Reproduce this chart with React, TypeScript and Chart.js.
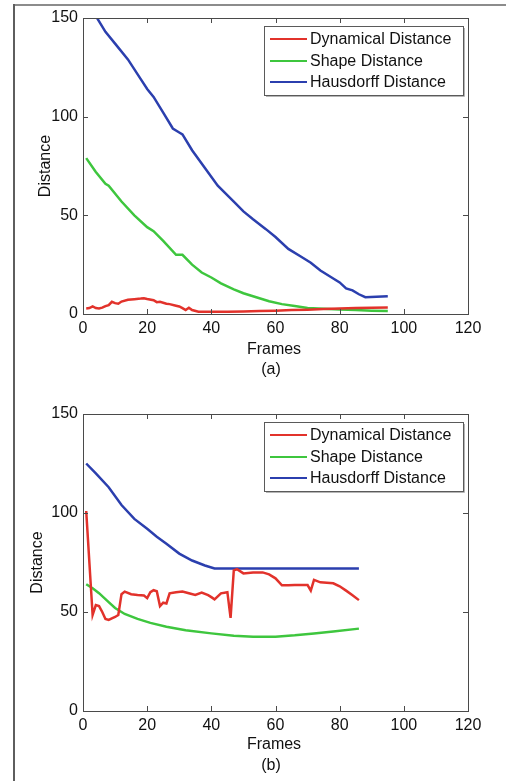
import React, { useEffect, useRef } from "react";
import { Chart, registerables } from "chart.js";

Chart.register(...registerables);

const FONT = "'Liberation Sans', Arial, Helvetica, sans-serif";

const seriesLabels = ["Dynamical Distance", "Shape Distance", "Hausdorff Distance"];
const seriesColors = ["#e2322b", "#3ec63e", "#2b3fae"];
const xTickValues = [0, 20, 40, 60, 80, 100, 120];
const yTickValues = [0, 50, 100, 150];
const xTitle = "Frames";
const yTitle = "Distance";

// ---------- panel (a) ----------
const aDynFrames = [1, 2, 3, 4, 5, 6, 7, 8, 9, 10, 11, 12, 14, 16, 18, 19, 20, 22, 23, 24, 26, 27, 29, 30, 31, 32, 33, 34, 36, 40, 45, 50, 55, 60, 65, 70, 75, 80, 85, 90, 95];
const aDyn = [2.8, 3, 3.8, 3, 2.8, 3.2, 4, 4.5, 6.2, 5.5, 5.2, 6.3, 7.2, 7.5, 7.8, 8, 7.6, 7, 6, 6.2, 5.2, 5, 4.2, 3.8, 3, 2, 3.2, 2, 1.2, 1.2, 1.1, 1.3, 1.5, 1.7, 2, 2.2, 2.5, 2.8, 3.1, 3.2, 3.3];
const aShapeFrames = [1, 4, 7, 8, 12, 16, 20, 22, 25, 29, 31, 34, 37, 40, 43, 47, 50, 54, 58, 62, 66, 70, 75, 80, 85, 90, 95];
const aShape = [79, 72, 66, 65, 57, 50, 44, 42, 37, 30, 30, 25, 21, 18.5, 15.5, 12.5, 10.5, 8.5, 6.5, 5, 4, 3, 2.6, 2.3, 2, 1.7, 1.5];
const aHausFrames = [1, 4, 7, 10, 14, 18, 20, 22, 25, 28, 30, 31, 34, 38, 42, 47, 50, 53, 57, 60, 64, 68, 71, 74, 78, 80, 82, 84, 86, 88, 95];
const aHaus = [157, 151, 143, 137, 129, 119, 114, 110, 102, 94, 92, 91, 83, 74, 65, 57, 52, 48, 43, 39, 33, 29, 26, 22, 18, 16, 13, 12, 10, 8.5, 9];

// ---------- panel (b) ----------
const bDynFrames = [1, 3, 4, 5, 6, 7, 8, 9, 10, 11, 12, 13, 15, 17, 19, 20, 21, 22, 23, 24, 25, 26, 27, 29, 31, 33, 35, 37, 39, 40, 41, 43, 45, 46, 47, 48, 50, 53, 56, 58, 60, 62, 64, 66, 68, 70, 71, 72, 74, 76, 78, 80, 82, 84, 86];
const bDyn = [101, 48.5, 53.5, 53, 50, 46.5, 46, 46.8, 47.5, 48.5, 59, 60.3, 59, 58.6, 58.3, 57, 60, 61, 60.5, 53, 54.7, 54.3, 59.4, 60, 60.3, 59.5, 58.6, 59.8, 58.5, 57.5, 56.4, 59.4, 60, 47, 71, 71.6, 69.5, 70, 70, 69, 67, 63.5, 63.5, 63.6, 63.6, 63.6, 60.8, 66.2, 65, 64.8, 64.5, 63, 60.8, 58.5, 56];
const bShapeFrames = [1, 3, 5, 8, 10, 13, 17, 21, 26, 32, 40, 47, 53, 60, 66, 72, 78, 86];
const bShape = [64, 62, 59.5, 55, 52, 49, 46.5, 44.5, 42.6, 40.8, 39.2, 38, 37.5, 37.5, 38.2, 39.2, 40.2, 41.6];
const bHausFrames = [1, 4, 8, 12, 16, 20, 23, 26, 30, 34, 38, 41, 86];
const bHaus = [125, 120, 113, 104, 97, 92, 88, 84.5, 79.5, 76, 73.5, 72, 72];

const zip = (xs: number[], ys: number[]) => xs.map((x, i) => ({ x, y: ys[i] }));

type PanelSpec = {
  top: number;
  height: number;
  plotTop: number;
  plotBottom: number;
  yTitleX: number;
  xTitleY: number;
  subY: number;
  sub: string;
  series: { x: number[]; y: number[] }[];
};

const panels: PanelSpec[] = [
  {
    top: 0,
    height: 390,
    plotTop: 18,
    plotBottom: 314,
    yTitleX: 50,
    xTitleY: 354,
    subY: 374,
    sub: "(a)",
    series: [
      { x: aDynFrames, y: aDyn },
      { x: aShapeFrames, y: aShape },
      { x: aHausFrames, y: aHaus },
    ],
  },
  {
    top: 390,
    height: 391,
    plotTop: 24,
    plotBottom: 321,
    yTitleX: 42,
    xTitleY: 359,
    subY: 380,
    sub: "(b)",
    series: [
      { x: bDynFrames, y: bDyn },
      { x: bShapeFrames, y: bShape },
      { x: bHausFrames, y: bHaus },
    ],
  },
];

const PLOT_LEFT = 83;
const PLOT_RIGHT = 468;
const WIDTH = 506;

function makeDecorPlugin(spec: PanelSpec) {
  return {
    id: "matlabDecor",
    afterDraw(chart: any) {
      const { ctx, chartArea } = chart;
      const { left, right, top, bottom } = chartArea;
      ctx.save();
      // axes box
      ctx.strokeStyle = "#4a4a4a";
      ctx.lineWidth = 1;
      ctx.strokeRect(Math.round(left) + 0.5, Math.round(top) + 0.5, Math.round(right - left), Math.round(bottom - top));
      // inward ticks
      const xs = chart.scales.x;
      const ys = chart.scales.y;
      ctx.beginPath();
      xs.ticks.forEach((t: any) => {
        const px = Math.round(xs.getPixelForValue(t.value)) + 0.5;
        ctx.moveTo(px, bottom);
        ctx.lineTo(px, bottom - 5);
        ctx.moveTo(px, top);
        ctx.lineTo(px, top + 5);
      });
      ys.ticks.forEach((t: any) => {
        const py = Math.round(ys.getPixelForValue(t.value)) + 0.5;
        ctx.moveTo(left, py);
        ctx.lineTo(left + 5, py);
        ctx.moveTo(right, py);
        ctx.lineTo(right - 5, py);
      });
      ctx.stroke();

      // legend box
      const bx = right - 204;
      const by = top + 8;
      const bw = 199;
      const bh = 69;
      ctx.fillStyle = "#ffffff";
      ctx.fillRect(bx, by, bw, bh);
      ctx.strokeStyle = "#b5b5b5";
      ctx.lineWidth = 1;
      ctx.beginPath();
      ctx.moveTo(bx + bw + 1.5, by + 2);
      ctx.lineTo(bx + bw + 1.5, by + bh + 1.5);
      ctx.lineTo(bx + 2, by + bh + 1.5);
      ctx.stroke();
      ctx.strokeStyle = "#5a5a5a";
      ctx.strokeRect(Math.round(bx) + 0.5, Math.round(by) + 0.5, bw, bh);
      const rows = [21, 43, 64];
      ctx.font = `16px ${FONT}`;
      ctx.textBaseline = "middle";
      ctx.textAlign = "left";
      chart.data.datasets.forEach((ds: any, i: number) => {
        const ry = top + rows[i];
        ctx.strokeStyle = ds.borderColor;
        ctx.lineWidth = 2;
        ctx.beginPath();
        ctx.moveTo(bx + 6, ry);
        ctx.lineTo(bx + 43, ry);
        ctx.stroke();
        ctx.fillStyle = "#111";
        ctx.fillText(ds.label, bx + 46, ry + 0.5);
      });

      // titles
      ctx.fillStyle = "#111";
      ctx.font = `16px ${FONT}`;
      ctx.textBaseline = "alphabetic";
      ctx.textAlign = "center";
      ctx.fillText(xTitle, 274, spec.xTitleY);
      ctx.fillText(spec.sub, 271, spec.subY);
      ctx.save();
      ctx.translate(spec.yTitleX, (top + bottom) / 2);
      ctx.rotate(-Math.PI / 2);
      ctx.fillText(yTitle, 0, 0);
      ctx.restore();
      ctx.restore();
    },
  };
}

function Panel({ spec }: { spec: PanelSpec }) {
  const ref = useRef<HTMLCanvasElement | null>(null);
  useEffect(() => {
    if (!ref.current) return;
    const chart = new Chart(ref.current, {
      type: "line",
      data: {
        datasets: spec.series.map((s, i) => ({
          label: seriesLabels[i],
          data: zip(s.x, s.y),
          borderColor: seriesColors[i],
          backgroundColor: seriesColors[i],
          borderWidth: 2.5,
          pointRadius: 0,
          tension: 0,
          fill: false,
        })),
      },
      options: {
        animation: false,
        responsive: false,
        maintainAspectRatio: false,
        events: [],
        layout: {
          padding: { left: 0, right: WIDTH - PLOT_RIGHT, top: spec.plotTop, bottom: 0 },
        },
        plugins: {
          legend: { display: false },
          tooltip: { enabled: false },
          title: { display: false },
        },
        scales: {
          x: {
            type: "linear",
            min: 0,
            max: 120,
            afterBuildTicks: (scale: any) => {
              scale.ticks = xTickValues.map((v) => ({ value: v }));
            },
            afterFit: (scale: any) => {
              scale.height = spec.height - spec.plotBottom;
            },
            grid: { display: false, drawTicks: false },
            border: { display: false },
            ticks: {
              padding: 5,
              color: "#111",
              font: { family: FONT, size: 16 },
              maxRotation: 0,
              autoSkip: false,
            },
          },
          y: {
            type: "linear",
            min: 0,
            max: 150,
            afterBuildTicks: (scale: any) => {
              scale.ticks = yTickValues.map((v) => ({ value: v }));
            },
            afterFit: (scale: any) => {
              scale.width = PLOT_LEFT;
            },
            grid: { display: false, drawTicks: false },
            border: { display: false },
            ticks: {
              padding: 5,
              color: "#111",
              font: { family: FONT, size: 16 },
              autoSkip: false,
            },
          },
        },
      } as any,
      plugins: [makeDecorPlugin(spec)],
    });
    return () => chart.destroy();
  }, [spec]);
  return (
    <canvas
      ref={ref}
      width={WIDTH}
      height={spec.height}
      style={{ position: "absolute", left: 0, top: spec.top, width: WIDTH, height: spec.height }}
    />
  );
}

export default function App() {
  return (
    <div style={{ position: "absolute", left: 0, top: 0, width: WIDTH, height: 781, background: "#fff", overflow: "hidden" }}>
      {panels.map((p, i) => (
        <Panel key={i} spec={p} />
      ))}
      <div style={{ position: "absolute", left: 14, top: 4, width: WIDTH - 14, height: 2, background: "#8c8c8c" }} />
      <div style={{ position: "absolute", left: 13, top: 4, width: 2, height: 777, background: "#5e5e5e" }} />
    </div>
  );
}
